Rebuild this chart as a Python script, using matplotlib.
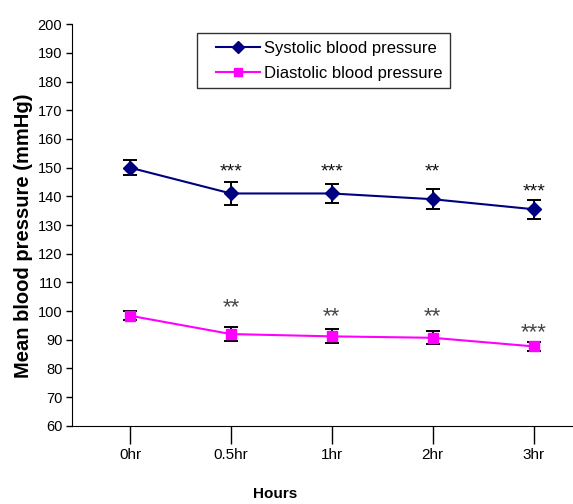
import matplotlib
matplotlib.use("Agg")
import matplotlib.pyplot as plt
from matplotlib.legend_handler import HandlerLine2D
import numpy as np

plt.rcParams['font.family'] = ['Liberation Sans', 'DejaVu Sans']

# data
hours = ['0hr', '0.5hr', '1hr', '2hr', '3hr']
systolic = [150.0, 141.0, 141.0, 139.0, 135.5]
systolic_err = [2.7, 3.9, 3.3, 3.5, 3.3]
diastolic = [98.4, 92.0, 91.2, 90.7, 87.7]
diastolic_err = [1.5, 2.4, 2.4, 2.3, 1.7]

# significance marks (centre height of the asterisks)
sys_stars = ['', '***', '***', '**', '***']
sys_star_y = [None, 151.0, 151.0, 151.0, 143.8]
dia_stars = ['', '**', '**', '**', '***']
dia_star_y = [None, 103.6, 100.5, 100.5, 95.0]

x = np.arange(len(hours))

fig = plt.figure(figsize=(5.73, 5.04), dpi=100)
ax = fig.add_axes([0.1257, 0.155, 0.8743, 0.797])

c1 = ax.errorbar(x, systolic, yerr=systolic_err, color='#000080', marker='D', markersize=7,
                 linewidth=1.5, ecolor='black', elinewidth=1.4, capsize=5, capthick=1.4,
                 label='Systolic blood pressure', zorder=3)
c2 = ax.errorbar(x, diastolic, yerr=diastolic_err, color='#ff00ff', marker='s', markersize=7,
                 linewidth=1.5, ecolor='black', elinewidth=1.4, capsize=5, capthick=1.4,
                 label='Diastolic blood pressure', zorder=3)

for i in range(len(hours)):
    if sys_stars[i]:
        ax.annotate(sys_stars[i], (x[i], sys_star_y[i]), xytext=(0, -0.58 * 14),
                    textcoords='offset points', ha='center', va='baseline',
                    fontsize=14, color='#111111')
    if dia_stars[i]:
        ax.annotate(dia_stars[i], (x[i], dia_star_y[i]), xytext=(0, -0.58 * 16),
                    textcoords='offset points', ha='center', va='baseline',
                    fontsize=16, color='#444444')

ax.set_xlim(-0.574, 4.39)
ax.set_ylim(60, 200)
ax.set_yticks(np.arange(60, 201, 10))
ax.set_xticks(x)
ax.set_xticklabels(hours, fontsize=11)
ax.tick_params(axis='x', length=13, width=1, pad=3, direction='out')
ax.tick_params(axis='y', length=4, width=1, labelsize=10.5, pad=3)

ax.spines['top'].set_visible(False)
ax.spines['right'].set_visible(False)

ax.set_ylabel('Mean blood pressure (mmHg)', fontsize=14.5, fontweight='bold')
ax.yaxis.set_label_coords(-0.078, 0.474)
ax.set_xlabel('Hours', fontsize=11, fontweight='bold')
ax.xaxis.set_label_coords(0.405, -0.152)

leg = ax.legend(handles=[c1.lines[0], c2.lines[0]],
                labels=['Systolic blood pressure', 'Diastolic blood pressure'],
                handler_map={c1.lines[0]: HandlerLine2D(xpad=0.7),
                             c2.lines[0]: HandlerLine2D(xpad=0.7)},
                loc='upper left', bbox_to_anchor=(0.2495, 0.978), borderaxespad=0,
                fontsize=12, frameon=True, fancybox=False, edgecolor='black',
                handlelength=3.3, borderpad=0.45, labelspacing=0.6, handletextpad=0.25,
                markerscale=0.85)
leg.get_frame().set_linewidth(1.0)

plt.savefig('out.png', dpi=100)
